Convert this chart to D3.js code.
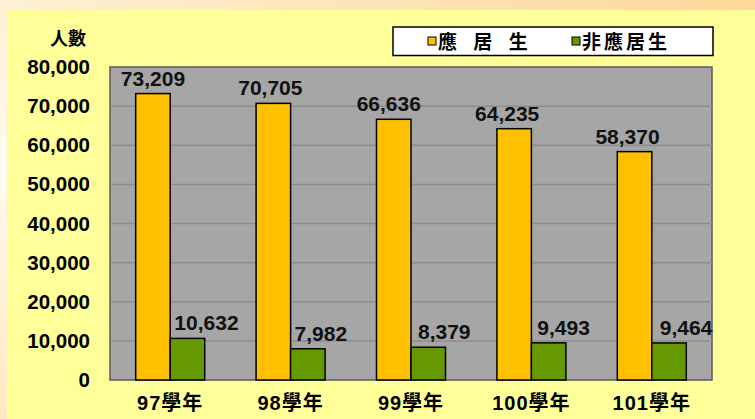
<!DOCTYPE html>
<html>
<head>
<meta charset="utf-8">
<script src="https://cdn.jsdelivr.net/npm/d3@7"></script>
<style>
  html, body { margin: 0; padding: 0; }
  body { width: 755px; height: 419px; overflow: hidden; }
</style>
</head>
<body>
<svg width="755" height="419"></svg>
<script>
// ---- Dados
const years = ['97學年', '98學年', '99學年', '100學年', '101學年'];
const seriesNames = ['應 居 生', '非應居生'];
const resident = [73209, 70705, 66636, 64235, 58370];
const nonResident = [10632, 7982, 8379, 9493, 9464];
const yTicks = [0, 10000, 20000, 30000, 40000, 50000, 60000, 70000, 80000];

const colors = ['#ffc000', '#669900'];
const margens = { left: 110, right: 43, top: 67, bottom: 39 };
const svg = d3.select('svg');
const W = 755, H = 419;
const fmt = d3.format(',');

// ---- Fundo
const defs = svg.append('defs');
const grad = defs.append('linearGradient').attr('id', 'bg')
    .attr('x1', 0).attr('y1', 1).attr('x2', 1).attr('y2', 0);
grad.append('stop').attr('offset', '0%').attr('stop-color', '#ffe8bf');
grad.append('stop').attr('offset', '30%').attr('stop-color', '#fffaf0');
grad.append('stop').attr('offset', '60%').attr('stop-color', '#fdebc8');
grad.append('stop').attr('offset', '100%').attr('stop-color', '#fdd79a');
svg.append('rect').attr('width', W).attr('height', H).attr('fill', 'url(#bg)');
svg.append('rect').attr('x', 7).attr('y', 10).attr('width', W - 7).attr('height', H - 10)
    .attr('fill', '#ffff99');

// ---- Escalas
const mapX = d3.scaleBand().domain(years).range([margens.left, W - margens.right]);
const mapY = d3.scaleLinear().domain([0, 80000]).range([H - margens.bottom, margens.top]);
const barW = 34.5;

// área do gráfico
svg.append('rect')
    .attr('x', margens.left).attr('y', margens.top)
    .attr('width', W - margens.left - margens.right)
    .attr('height', H - margens.top - margens.bottom)
    .attr('fill', '#a6a6a6')
    .attr('stroke', '#5a5a5a').attr('stroke-width', 1.5);

// linhas de grade
svg.append('g').selectAll('line').data(yTicks.slice(1, -1)).join('line')
    .attr('x1', margens.left).attr('x2', W - margens.right)
    .attr('y1', d => mapY(d)).attr('y2', d => mapY(d))
    .attr('stroke', '#8c8c8c').attr('stroke-width', 1.5);

// ---- Eixos
const yAxis = d3.axisLeft(mapY).tickValues(yTicks).tickFormat(d => fmt(d)).tickSize(0).tickPadding(20);
const gY = svg.append('g').attr('transform', `translate(${margens.left},0)`).call(yAxis);
gY.select('.domain').remove();
gY.selectAll('text')
    .attr('font-family', 'Arial, "Liberation Sans", sans-serif')
    .attr('font-weight', 'bold').attr('font-size', 20.5).attr('fill', '#000');

const xAxis = d3.axisBottom(mapX).tickSize(0).tickPadding(16);
const gX = svg.append('g').attr('transform', `translate(0,${H - margens.bottom})`).call(xAxis);
gX.select('.domain').remove();
gX.selectAll('text')
    .attr('font-family', 'Arial, "Noto Sans CJK TC", sans-serif')
    .attr('font-weight', 'bold').attr('font-size', 20).attr('fill', '#000')
    .attr('letter-spacing', 1);

svg.append('text').attr('x', 68).attr('y', 45).attr('text-anchor', 'middle')
    .attr('font-family', '"Noto Sans CJK TC", sans-serif')
    .attr('font-weight', 'bold').attr('font-size', 18).text('人數');

// ---- Barras
const series = [resident, nonResident];
const labelDx = [[0, -3, -5, -7, -7], [19, 13, 16, 15, 17]];
series.forEach((vals, s) => {
    const g = svg.append('g');
    g.selectAll('rect').data(vals).join('rect')
        .attr('x', (d, i) => mapX(years[i]) + mapX.bandwidth() / 2 - barW + s * barW)
        .attr('y', d => mapY(d))
        .attr('width', barW)
        .attr('height', d => mapY(0) - mapY(d))
        .attr('fill', colors[s])
        .attr('stroke', '#000').attr('stroke-width', 1.5);
    g.selectAll('text').data(vals).join('text')
        .attr('x', (d, i) => mapX(years[i]) + mapX.bandwidth() / 2 - barW / 2 + s * barW + labelDx[s][i])
        .attr('y', d => mapY(d) - 8)
        .attr('text-anchor', 'middle')
        .attr('font-family', 'Arial, "Liberation Sans", sans-serif')
        .attr('font-weight', 'bold').attr('font-size', 21).attr('fill', '#111')
        .text(d => fmt(d));
});

// ---- Legenda
const leg = svg.append('g');
leg.append('rect').attr('x', 393).attr('y', 27).attr('width', 320).attr('height', 28.5)
    .attr('fill', '#fff').attr('stroke', '#000').attr('stroke-width', 1.5);
const legX = [428, 572];
seriesNames.forEach((name, s) => {
    leg.append('rect').attr('x', legX[s]).attr('y', 37).attr('width', 8).attr('height', 8)
        .attr('fill', colors[s]).attr('stroke', '#000').attr('stroke-width', 1);
    leg.append('text').attr('x', legX[s] + 10).attr('y', 48.5)
        .attr('font-family', '"Noto Sans CJK TC", sans-serif')
        .attr('font-weight', 'bold').attr('font-size', 19)
        .attr('letter-spacing', 3).attr('word-spacing', 6)
        .attr('xml:space', 'preserve').style('white-space', 'pre')
        .text(name);
});
</script>
</body>
</html>
